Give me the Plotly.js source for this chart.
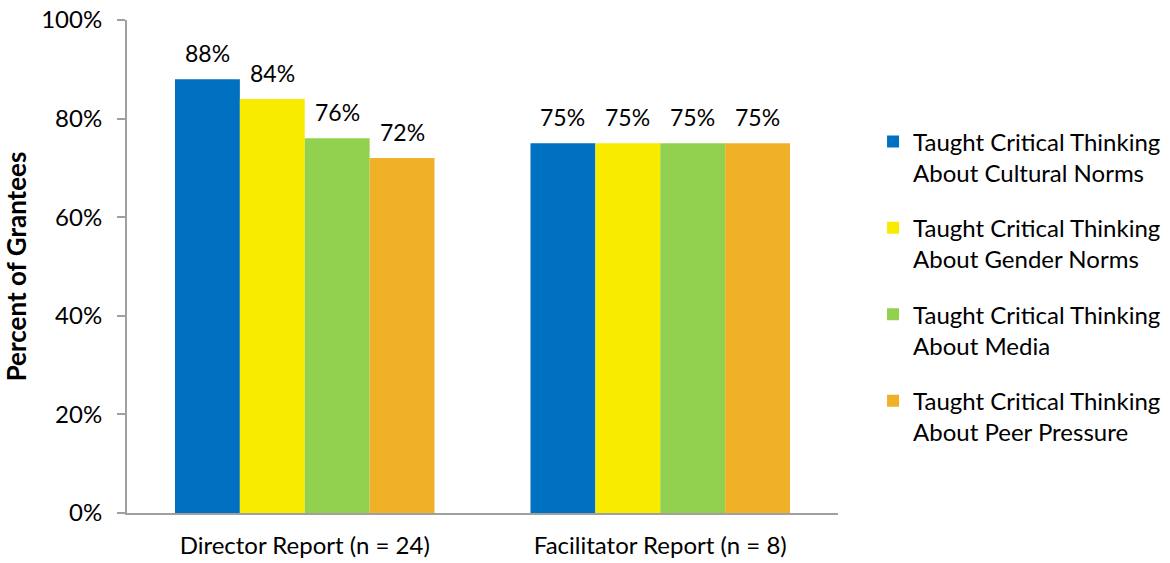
<!DOCTYPE html>
<html>
<head>
<meta charset="utf-8">
<script src="https://cdn.plot.ly/plotly-3.0.1.min.js"></script>
<style>html,body{margin:0;padding:0;background:#fff;}#chart{width:1170px;height:563px;}</style>
</head>
<body>
<div id="chart"></div>
<script>
const categories = ["Director Report (n = 24)", "Facilitator Report (n = 8)"];
const seriesNames = [
  "Taught Critical Thinking<br>About Cultural Norms",
  "Taught Critical Thinking<br>About Gender Norms",
  "Taught Critical Thinking<br>About Media",
  "Taught Critical Thinking<br>About Peer Pressure"
];
const culturalNorms = [88, 75];
const genderNorms = [84, 75];
const media = [76, 75];
const peerPressure = [72, 75];
const yTickVals = [0, 20, 40, 60, 80, 100];
const yTickText = ["0%", "20%", "40%", "60%", "80%", "100%"];
const colors = ["#0070C0", "#F9EB00", "#92D050", "#F0B129"];

const FONT = "Lato, 'Open Sans', sans-serif";
const BARGAP = 0.27;
const seriesValues = [culturalNorms, genderNorms, media, peerPressure];
const nSeries = seriesValues.length;
const traces = seriesValues.map((vals, i) => ({
  type: "bar",
  x: categories,
  y: vals,
  name: seriesNames[i],
  legendgroup: "g" + i,
  marker: {color: colors[i], line: {width: 0}},
  hoverinfo: "none"
}));

// value labels, anchored to each bar's category slot and value
const barW = (1 - BARGAP) / nSeries;
const annotations = [];
seriesValues.forEach((vals, i) => {
  vals.forEach((v, c) => {
    annotations.push({
      xref: "x", yref: "y",
      x: c + (i - (nSeries - 1) / 2) * barW,
      y: v,
      text: v + "%",
      showarrow: false,
      xanchor: "center",
      yanchor: "bottom",
      yshift: 10,
      font: {family: FONT, size: 23, color: "#000"}
    });
  });
});

const layout = {
  width: 1170,
  height: 563,
  margin: {l: 127, r: 332, t: 20, b: 50},
  paper_bgcolor: "#fff",
  plot_bgcolor: "#fff",
  barmode: "group",
  bargap: BARGAP,
  bargroupgap: 0,
  font: {family: FONT, size: 24, color: "#000"},
  xaxis: {
    showline: true,
    linecolor: "#A0A0A0",
    linewidth: 2,
    ticks: "",
    tickfont: {family: FONT, size: 24, color: "#000"},
    ticklabelstandoff: 10,
    showgrid: false,
    zeroline: false
  },
  yaxis: {
    range: [0, 100],
    tickvals: yTickVals,
    ticktext: yTickText,
    showline: true,
    linecolor: "#A0A0A0",
    linewidth: 2,
    ticks: "outside",
    ticklen: 8,
    tickcolor: "#A0A0A0",
    tickwidth: 2,
    ticklabelstandoff: 10,
    showgrid: false,
    zeroline: false,
    tickfont: {family: FONT, size: 24, color: "#000"},
    title: {text: "<b>Percent of Grantees</b>", font: {family: FONT, size: 26, color: "#000"}, standoff: 12}
  },
  annotations: annotations,
  legend: {
    xref: "container",
    yref: "container",
    x: 0.7462,
    y: 0.788,
    xanchor: "left",
    yanchor: "top",
    valign: "top",
    maxheight: 1000,
    font: {family: FONT, size: 24, color: "#000"},
    tracegroupgap: 21,
    itemwidth: 30,
    bgcolor: "rgba(0,0,0,0)"
  },
  showlegend: true
};

Plotly.newPlot("chart", traces, layout, {displayModeBar: false, staticPlot: true});
</script>
</body>
</html>
